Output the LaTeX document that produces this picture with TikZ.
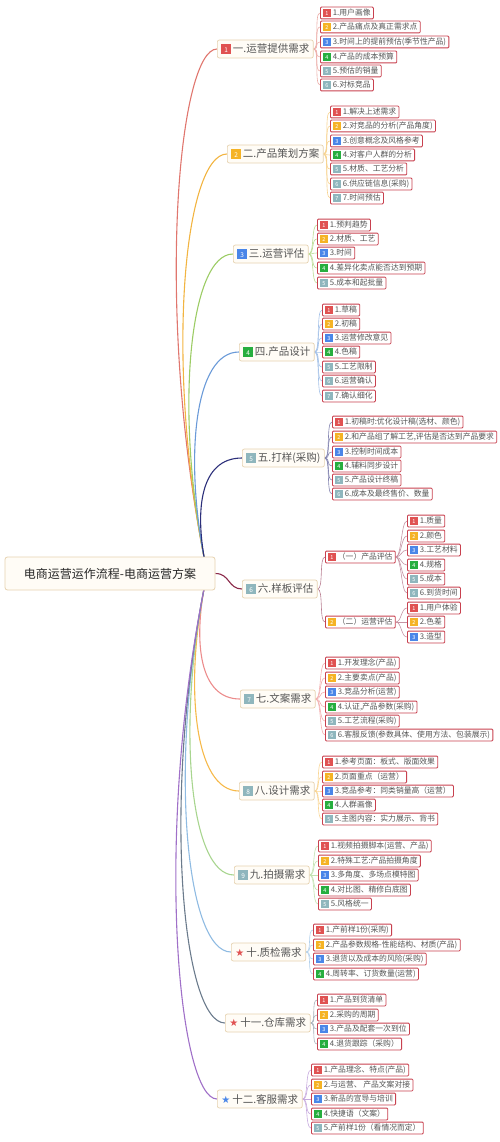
\documentclass[tikz,border=0pt]{standalone}
\usepackage{fontspec}
\setmainfont{Noto Sans CJK SC}
\newfontfamily\djv{DejaVu Sans}
\usetikzlibrary{calc}
\definecolor{bR}{HTML}{E05252}
\definecolor{bY}{HTML}{F5B325}
\definecolor{bB}{HTML}{4A86E8}
\definecolor{bG}{HTML}{27AE3F}
\definecolor{bT}{HTML}{8FB6BD}
\definecolor{leafred}{HTML}{C8414F}
\definecolor{txt}{HTML}{555555}
\definecolor{cream}{HTML}{FFFCF6}
\definecolor{tan}{HTML}{E6D2B0}
\definecolor{br1}{HTML}{E0766E}
\definecolor{br2}{HTML}{F2B441}
\definecolor{br3}{HTML}{9CCC65}
\definecolor{br4}{HTML}{6A9AD8}
\definecolor{br5}{HTML}{2C2F7A}
\definecolor{br6}{HTML}{8B2A4A}
\definecolor{br7}{HTML}{EC8C8C}
\definecolor{br8}{HTML}{F6B94A}
\definecolor{br9}{HTML}{A8D58F}
\definecolor{br10}{HTML}{8FBBE2}
\definecolor{br11}{HTML}{6B7B8C}
\definecolor{br12}{HTML}{A070C8}
\pgfdeclarelayer{bg}\pgfsetlayers{bg,main}
\newcommand\bdgc[2]{{\setlength{\fboxsep}{0pt}\colorbox{#1}{\makebox[7.5pt][c]{\rule[-1.2pt]{0pt}{8pt}\fontsize{5.5}{5.5}\selectfont\color{white}#2}}}\hspace{2.2pt}}
\newcommand\bdg[1]{\ifcase#1\or\bdgc{bR}{#1}\or\bdgc{bY}{#1}\or\bdgc{bB}{#1}\or\bdgc{bG}{#1}\else\bdgc{bT}{#1}\fi}
\newcommand\bbdgc[2]{{\setlength{\fboxsep}{0pt}\colorbox{#1}{\makebox[9.5pt][c]{\rule[-1.5pt]{0pt}{10pt}\fontsize{6.5}{6.5}\selectfont\color{white}#2}}}\hspace{2pt}}
\newcommand\bbdg[1]{\ifcase#1\or\bbdgc{bR}{#1}\or\bbdgc{bY}{#1}\or\bbdgc{bB}{#1}\or\bbdgc{bG}{#1}\else\bbdgc{bT}{#1}\fi}
\newcommand\strmark[1]{{\djv\fontsize{10}{10}\selectfont\color{#1}★}\hspace{2pt}}
\tikzset{
  leaf/.style={draw=leafred, line width=0.8pt, fill=white, rounded corners=1pt,
    inner xsep=2.8pt, inner ysep=0pt, minimum height=11.8pt, anchor=west,
    font=\fontsize{7.8}{8}\selectfont, text=txt},
  lvone/.style={draw=tan, fill=cream, line width=0.7pt, rounded corners=2pt,
    inner xsep=4pt, inner ysep=0pt, minimum height=18pt, anchor=west,
    font=\fontsize{10.5}{11}\selectfont, text=txt},
  rootbox/.style={draw=tan, fill=cream, line width=0.8pt, rounded corners=2.5pt,
    minimum width=210pt, minimum height=33pt, inner sep=0pt,
    font=\fontsize{12}{13}\selectfont, text=black!85},
  branch/.style={line width=1.1pt},
  lconn/.style={line width=0.6pt}
}
\newcommand\lf[7]{\node[leaf] (#2) at (#3,#4) {\bdg{#5}#6};
\begin{pgfonlayer}{bg}\draw[lconn,#7] (#1.east) .. controls +(6,0) and +(-6,0) .. (#2.west);\end{pgfonlayer}}
\begin{document}
\begin{tikzpicture}[x=1pt,y=-1pt]
\useasboundingbox (0,0) rectangle (500,1142);
\node[rootbox] (root) at (110,573.5) {电商运营运作流程-电商运营方案};
\coordinate (ru) at (205,562);
\coordinate (rd) at (205,584);
% level one
\node[lvone] (n1) at (217,49) {\bbdg{1}一.运营提供需求};
\node[lvone] (n2) at (227,154) {\bbdg{2}二.产品策划方案};
\node[lvone] (n3) at (233,254) {\bbdg{3}三.运营评估};
\node[lvone] (n4) at (239,352) {\bbdg{4}四.产品设计};
\node[lvone] (n5) at (242,458) {\bbdg{5}五.打样(采购)};
\node[lvone] (n6) at (242,589) {\bbdg{6}六.样板评估};
\node[lvone] (n7) at (240,699) {\bbdg{7}七.文案需求};
\node[lvone] (n8) at (239,791) {\bbdg{8}八.设计需求};
\node[lvone] (n9) at (234,875) {\bbdg{9}九.拍摄需求};
\node[lvone] (n10) at (231,952) {\strmark{bR}十.质检需求};
\node[lvone] (n11) at (225,1023) {\strmark{bR}十一.仓库需求};
\node[lvone] (n12) at (217,1099) {\strmark{bB}十二.客服需求};
\begin{pgfonlayer}{bg}
\draw[branch,br1] (ru) .. controls (154,305.5) and (179,49) .. (n1.west);
\draw[branch,br2] (ru) .. controls (164,358) and (185,154) .. (n2.west);
\draw[branch,br3] (ru) .. controls (174,408) and (190,254) .. (n3.west);
\draw[branch,br4] (ru) .. controls (184,457) and (194.5,352) .. (n4.west);
\draw[branch,br5] (ru) .. controls (195,510) and (200,458) .. (n5.west);
\draw[branch,br6] (root.east) .. controls (230,573.5) and (228,589) .. (n6.west);
\draw[branch,br7] (rd) .. controls (193.5,641.5) and (199,699) .. (n7.west);
\draw[branch,br8] (rd) .. controls (184,687.5) and (194.5,791) .. (n8.west);
\draw[branch,br9] (rd) .. controls (176,729.5) and (190.5,875) .. (n9.west);
\draw[branch,br10] (rd) .. controls (168,768) and (186.6,952) .. (n10.west);
\draw[branch,br11] (rd) .. controls (161,803.5) and (183,1023) .. (n11.west);
\draw[branch,br12] (rd) .. controls (153,841.5) and (179,1099) .. (n12.west);
\end{pgfonlayer}
% branch 1
\lf{n1}{a1}{320}{13}{1}{1.用户画像}{br1!60}
\lf{n1}{a2}{320}{27}{2}{2.产品痛点及真正需求点}{br1!60}
\lf{n1}{a3}{320}{42}{3}{3.时间上的提前预估(季节性产品)}{br1!60}
\lf{n1}{a4}{320}{57}{4}{4.产品的成本预算}{br1!60}
\lf{n1}{a5}{320}{71}{5}{5.预估的销量}{br1!60}
\lf{n1}{a6}{320}{85}{6}{6.对标竞品}{br1!60}
% branch 2
\lf{n2}{b1}{330}{112}{1}{1.解决上述需求}{br2!60}
\lf{n2}{b2}{330}{126}{2}{2.对竞品的分析(产品角度)}{br2!60}
\lf{n2}{b3}{330}{141}{3}{3.创意概念及风格参考}{br2!60}
\lf{n2}{b4}{330}{155}{4}{4.对客户人群的分析}{br2!60}
\lf{n2}{b5}{330}{169}{5}{5.材质、工艺分析}{br2!60}
\lf{n2}{b6}{330}{184}{6}{6.供应链信息(采购)}{br2!60}
\lf{n2}{b7}{330}{198}{7}{7.时间预估}{br2!60}
% branch 3
\lf{n3}{c1}{317}{225}{1}{1.预判趋势}{br3!70}
\lf{n3}{c2}{317}{239}{2}{2.材质、工艺}{br3!70}
\lf{n3}{c3}{317}{253}{3}{3.时间}{br3!70}
\lf{n3}{c4}{317}{268}{4}{4.差异化卖点能否达到预期}{br3!70}
\lf{n3}{c5}{317}{283}{5}{5.成本和起批量}{br3!70}
% branch 4
\lf{n4}{d1}{322}{310}{1}{1.草稿}{br4!60}
\lf{n4}{d2}{322}{324}{2}{2.初稿}{br4!60}
\lf{n4}{d3}{322}{338}{3}{3.运营修改意见}{br4!60}
\lf{n4}{d4}{322}{352}{4}{4.色稿}{br4!60}
\lf{n4}{d5}{322}{367}{5}{5.工艺限制}{br4!60}
\lf{n4}{d6}{322}{381}{6}{6.运营确认}{br4!60}
\lf{n4}{d7}{322}{396}{7}{7.确认细化}{br4!60}
% branch 5
\lf{n5}{e1}{332}{422}{1}{1.初稿时:优化设计稿(选材、颜色)}{br5!60}
\lf{n5}{e2}{332}{437}{2}{2.和产品组了解工艺,评估是否达到产品要求}{br5!60}
\lf{n5}{e3}{332}{452}{3}{3.控制时间成本}{br5!60}
\lf{n5}{e4}{332}{466}{4}{4.辅料同步设计}{br5!60}
\lf{n5}{e5}{332}{480}{5}{5.产品设计终稿}{br5!60}
\lf{n5}{e6}{332}{494}{6}{6.成本及最终售价、数量}{br5!60}
% branch 6
\lf{n6}{fa}{325}{557}{1}{（一）产品评估}{br6!60}
\lf{n6}{fb}{325}{622}{2}{（二）运营评估}{br6!60}
\lf{fa}{fa1}{407}{521}{1}{1.质量}{br6!50}
\lf{fa}{fa2}{407}{536}{2}{2.颜色}{br6!50}
\lf{fa}{fa3}{407}{550}{3}{3.工艺材料}{br6!50}
\lf{fa}{fa4}{407}{565}{4}{4.规格}{br6!50}
\lf{fa}{fa5}{407}{579}{5}{5.成本}{br6!50}
\lf{fa}{fa6}{407}{593}{6}{6.到货时间}{br6!50}
\lf{fb}{fb1}{407}{608}{1}{1.用户体验}{br6!50}
\lf{fb}{fb2}{407}{622}{2}{2.色差}{br6!50}
\lf{fb}{fb3}{407}{637}{3}{3.造型}{br6!50}
% branch 7
\lf{n7}{g1}{325}{663}{1}{1.开发理念(产品)}{br7!70}
\lf{n7}{g2}{325}{678}{2}{2.主要卖点(产品)}{br7!70}
\lf{n7}{g3}{325}{692}{3}{3.竞品分析(运营)}{br7!70}
\lf{n7}{g4}{325}{707}{4}{4.认证,产品参数(采购)}{br7!70}
\lf{n7}{g5}{325}{721}{5}{5.工艺流程(采购)}{br7!70}
\lf{n7}{g6}{325}{735}{6}{6.客服反馈(参数具体、使用方法、包装展示)}{br7!70}
% branch 8
\lf{n8}{h1}{322}{762}{1}{1.参考页面：板式、版面效果}{br8!60}
\lf{n8}{h2}{322}{777}{2}{2.页面重点（运营）}{br8!60}
\lf{n8}{h3}{322}{791}{3}{3.竞品参考：同类销量高（运营）}{br8!60}
\lf{n8}{h4}{322}{805}{4}{4.人群画像}{br8!60}
\lf{n8}{h5}{322}{819}{5}{5.主图内容：实力展示、背书}{br8!60}
% branch 9
\lf{n9}{i1}{318}{846}{1}{1.视频拍摄脚本(运营、产品)}{br9!70}
\lf{n9}{i2}{318}{861}{2}{2.特殊工艺:产品拍摄角度}{br9!70}
\lf{n9}{i3}{318}{875}{3}{3.多角度、多场点模特图}{br9!70}
\lf{n9}{i4}{318}{890}{4}{4.对比图、精修白底图}{br9!70}
\lf{n9}{i5}{318}{904}{5}{5.风格统一}{br9!70}
% branch 10
\lf{n10}{j1}{313}{930}{1}{1.产前样1份(采购)}{br10!70}
\lf{n10}{j2}{313}{945}{2}{2.产品参数规格-性能结构、材质(产品)}{br10!70}
\lf{n10}{j3}{313}{959}{3}{3.退货以及成本的风险(采购)}{br10!70}
\lf{n10}{j4}{313}{974}{4}{4.周转率、订货数量(运营)}{br10!70}
% branch 11
\lf{n11}{k1}{317}{1000}{1}{1.产品到货清单}{br11!60}
\lf{n11}{k2}{317}{1015}{2}{2.采购的周期}{br11!60}
\lf{n11}{k3}{317}{1029}{3}{3.产品及配套一次到位}{br11!60}
\lf{n11}{k4}{317}{1044}{4}{4.退货跟踪（采购）}{br11!60}
% branch 12
\lf{n12}{m1}{311}{1070}{1}{1.产品理念、特点(产品)}{br12!60}
\lf{n12}{m2}{311}{1085}{2}{2.与运营、 产品文案对接}{br12!60}
\lf{n12}{m3}{311}{1099}{3}{3.新品的宣导与培训}{br12!60}
\lf{n12}{m4}{311}{1114}{4}{4.快捷语（文案）}{br12!60}
\lf{n12}{m5}{311}{1128}{5}{5.产前样1份（看情况而定）}{br12!60}
\end{tikzpicture}
\end{document}
